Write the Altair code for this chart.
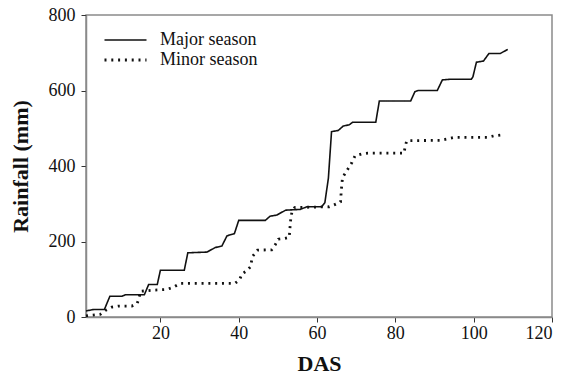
import altair as alt
import pandas as pd

# Cumulative rainfall (mm) against days after sowing (DAS)
major_das = [1, 3, 5.7, 7.1, 10.2, 11.1, 15.9, 17, 19.2, 20, 26.1, 27, 31.9, 34, 35.7, 37, 38.9,
             40, 46.8, 48, 49.7, 52, 55.7, 57.4, 61.2, 62, 62.9, 63.7, 65.4, 66.7, 68.2, 69.1,
             75, 75.9, 83.9, 85, 85.8, 90.7, 92, 94.3, 99.4, 99.8, 100.7, 102.5, 103.9, 106.8, 108.7]
major_rain = [16, 20, 20, 55, 55, 59, 59, 86, 86, 124, 124, 170, 172, 184, 188, 215, 221,
              256, 256, 267, 270, 283, 285, 292, 292, 303, 368, 491, 494, 506, 509, 516,
              516, 572, 572, 597, 600, 600, 628, 630, 630, 636, 675, 678, 698, 698, 709]

minor_das = [1, 4.6, 5.9, 7.6, 9.3, 12.7, 14.1, 14.6, 14.9, 18, 21.6, 23.3, 25, 39, 40.2, 40.8,
             42, 43, 43.5, 44.8, 48.4, 49.3, 50.1, 51.6, 52.9, 53.1, 53.3, 53.6, 54.3, 63.1,
             64.8, 66, 66.2, 66.5, 68, 68.9, 69.7, 71.4, 73, 82.2, 82.5, 82.9, 91.6, 95.2,
             103.6, 105.3, 107]
minor_rain = [3, 7, 17, 26, 29, 29, 36, 54, 68, 71, 73, 79, 89, 89, 98, 114,
              122, 133, 160, 177, 178, 191, 206, 208, 211, 238, 261, 279, 290, 292,
              299, 305, 336, 369, 394, 409, 427, 432, 434, 434, 451, 467, 468, 476,
              476, 480, 482]

seasons = ["Major season", "Minor season"]

df = pd.concat([
    pd.DataFrame({"das": major_das, "rain": major_rain, "season": seasons[0], "order": range(len(major_das))}),
    pd.DataFrame({"das": minor_das, "rain": minor_rain, "season": seasons[1], "order": range(len(minor_das))}),
])

font = "Liberation Serif"

chart = alt.Chart(df).mark_line(color="#111111").encode(
    x=alt.X("das:Q", scale=alt.Scale(domain=[1, 120], nice=False, zero=False),
            axis=alt.Axis(title="DAS", values=[20, 40, 60, 80, 100, 120])),
    y=alt.Y("rain:Q", scale=alt.Scale(domain=[0, 800], nice=False),
            axis=alt.Axis(title="Rainfall (mm)", values=[0, 200, 400, 600, 800])),
    strokeDash=alt.StrokeDash(
        "season:N",
        scale=alt.Scale(domain=seasons, range=[[1, 0], [2, 4.8]]),
        legend=alt.Legend(
            title=None, orient="none", legendX=17, legendY=15,
            symbolType="stroke", symbolSize=1764, symbolStrokeWidth=2.4,
            symbolStrokeColor="#111111", clipHeight=20,
            labelFont=font, labelFontSize=18, labelColor="#111111",
            labelOffset=12, rowPadding=0,
        ),
    ),
    strokeWidth=alt.StrokeWidth("season:N", scale=alt.Scale(domain=seasons, range=[1.6, 2.8]), legend=None),
    order="order:Q",
    detail="season:N",
).properties(
    width=466, height=302,
    autosize=alt.AutoSizeParams(type="none"),
    padding={"left": 86, "top": 15, "right": 14, "bottom": 60},
).configure_view(
    stroke="#8a8a8a", strokeWidth=1.5
).configure_axis(
    grid=False,
    domainColor="#8a8a8a", domainWidth=1.5,
    tickColor="#333333", tickSize=5, tickWidth=1,
    labelFont=font, labelFontSize=18, labelColor="#111111",
    titleFont=font, titleFontSize=22, titleFontWeight="bold", titleColor="#111111",
).configure_axisY(
    labelPadding=6, titlePadding=16,
).configure_axisX(
    labelPadding=2, titlePadding=11,
)

chart.save("out.html", embed_options={"renderer": "svg", "actions": False})
